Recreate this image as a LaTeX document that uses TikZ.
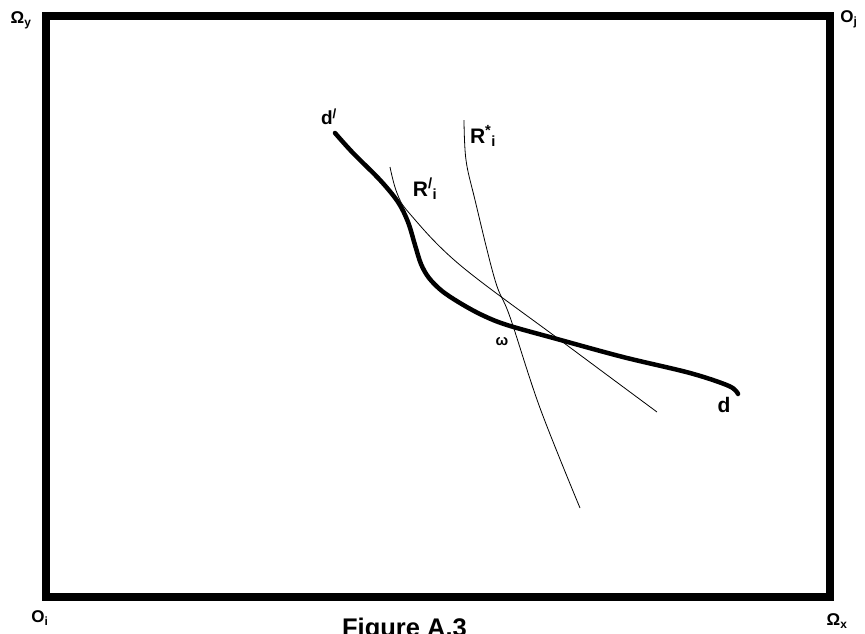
\documentclass[tikz,border=0pt]{standalone}
\usepackage{fontspec}
\setmainfont{Liberation Sans}
\begin{document}
\begin{tikzpicture}[x=1pt,y=-1pt,
  lbl/.style={font=\fontsize{17}{17}\selectfont\bfseries, inner sep=0pt},
  biglbl/.style={font=\fontsize{21}{21}\selectfont\bfseries, inner sep=0pt},
  framebox/.style={line width=8.5pt, line join=miter},
  thinline/.style={line width=0.8pt},
  thickcurve/.style={line width=4.5pt, line cap=round, line join=round}]
\useasboundingbox (0,0) rectangle (865,633);
\clip (0,0) rectangle (865,633);
% frame
\draw[framebox] (46,16) rectangle (830,597);
% corner labels
\node[lbl] (oy) at (21,20) {Ω\textsubscript{y}};
\node[lbl] (oj) at (849,19) {O\textsubscript{j}};
\node[lbl] (oi) at (40,618) {O\textsubscript{i}};
\node[lbl] (ox) at (837,621) {Ω\textsubscript{x}};
\node[font=\fontsize{25.5}{25.5}\selectfont\bfseries, inner sep=0pt, anchor=base east] (fig) at (467,636) {Figure A.3};
% curve d
\draw[thickcurve] plot[smooth, tension=0.55] coordinates {(335,133) (353,153) (380,180) (398,202) (408,222) (415,245) (421,264) (429,278) (442,291) (460,303) (482,315) (507,325) (557,339) (623,357) (690,373) (729,386) (738,394)};
% R'_i
\draw[thinline] plot[smooth, tension=0.6] coordinates {(390,167) (397,193) (410,214) (460,265) (560,340) (657,412)};
% R*_i
\draw[thinline] plot[smooth, tension=0.6] coordinates {(464,120) (466,160) (475,200) (495,280) (510,317) (540,408) (580,508)};
% labels
\node[font=\fontsize{19}{19}\selectfont\bfseries, inner sep=0pt] (dp) at (329,117) {d\textsuperscript{/}};
\node[biglbl] (rp) at (425,189) {R\textsuperscript{/}\textsubscript{i}};
\node[biglbl] (rs) at (483,136) {R\textsuperscript{*}\textsubscript{i}};
\node[font=\fontsize{21}{21}\selectfont\bfseries, inner sep=0pt] (d) at (724,405) {d};
\node[font=\fontsize{15}{15}\selectfont\bfseries, inner sep=0pt] (w) at (502,342) {ω};
\end{tikzpicture}
\end{document}
